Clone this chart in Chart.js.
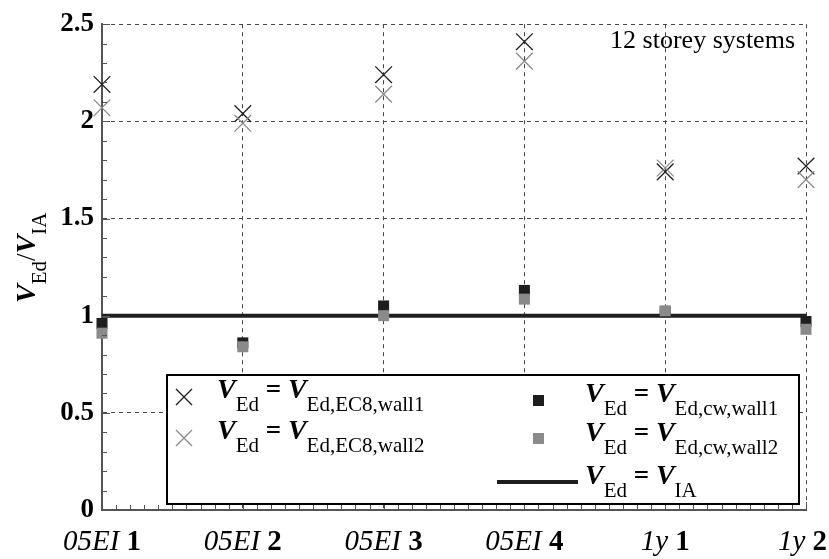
<!DOCTYPE html>
<html>
<head>
<meta charset="utf-8">
<script src="https://cdn.jsdelivr.net/npm/chart.js@4/dist/chart.umd.min.js"></script>
<style>
html,body{margin:0;padding:0;background:#fff;}
canvas{display:block;}
</style>
</head>
<body>
<canvas id="c" width="829" height="559"></canvas>
<script>
// ---- data ----
const xLabelMain = ['05EI', '05EI', '05EI', '05EI', '1y', '1y'];
const xLabelNum  = ['1', '2', '3', '4', '1', '2'];
const yTicks = [0, 0.5, 1, 1.5, 2, 2.5];
const ec8Wall1 = [2.19, 2.04, 2.24, 2.41, 1.74, 1.77];
const ec8Wall2 = [2.07, 1.99, 2.14, 2.31, 1.76, 1.70];
const cwWall1  = [0.96, 0.86, 1.05, 1.13, 1.02, 0.97];
const cwWall2  = [0.91, 0.84, 1.00, 1.085, 1.025, 0.93];
const iaRatio  = [1, 1, 1, 1, 1, 1];
const annotation = '12 storey systems';

const SERIF = '"Liberation Serif", "DejaVu Serif", serif';
const DARK = '#1e1e1e', GRAY = '#8a8a8a';

const pts = arr => arr.map((v, i) => ({x: i, y: v}));

function drawRich(ctx, x, y, parts) {
  for (const p of parts) {
    ctx.font = p.f;
    ctx.fillText(p.t, x, y + (p.dy || 0));
    x += ctx.measureText(p.t).width + (p.gap || 0);
  }
  return x;
}
const fV = `bold italic 28px ${SERIF}`, fSub = `21px ${SERIF}`, fEq = `bold 27px ${SERIF}`;
function eqParts(sub2) {
  return [
    {t: 'V', f: fV},
    {t: 'Ed', f: fSub, dy: 13},
    {t: ' = ', f: fEq},
    {t: 'V', f: fV},
    {t: sub2, f: fSub, dy: 13}
  ];
}

const customPlugin = {
  id: 'custom',
  afterDraw(chart) {
    const ctx = chart.ctx;
    const xs = chart.scales.x, ys = chart.scales.y;
    const area = chart.chartArea;
    ctx.save();
    // minor ticks
    ctx.strokeStyle = '#555';
    ctx.lineWidth = 1;
    ctx.beginPath();
    for (let v = 0; v <= 2.5001; v += 0.1) {
      const py = Math.round(ys.getPixelForValue(v)) + 0.5;
      const major = Math.abs(v * 2 - Math.round(v * 2)) < 1e-6;
      ctx.moveTo(area.left, py); ctx.lineTo(area.left + (major ? 8 : 5), py);
    }
    for (let v = 0; v <= 5.0001; v += 0.1) {
      const px = Math.round(xs.getPixelForValue(v)) + 0.5;
      const major = Math.abs(v - Math.round(v)) < 1e-6;
      ctx.moveTo(px, area.bottom); ctx.lineTo(px, area.bottom - (major ? 8 : 5));
    }
    ctx.stroke();

    // x labels (mixed italic / bold)
    ctx.fillStyle = '#000';
    ctx.textBaseline = 'alphabetic';
    for (let i = 0; i < xLabelMain.length; i++) {
      const fa = `italic 29px ${SERIF}`, fb = `bold 29px ${SERIF}`;
      ctx.font = fa; const wa = ctx.measureText(xLabelMain[i] + ' ').width;
      ctx.font = fb; const wb = ctx.measureText(xLabelNum[i]).width;
      const w = wa + wb;
      let x0 = xs.getPixelForValue(i) - w / 2;
      if (x0 + w > chart.width - 2) x0 = chart.width - 2 - w;
      drawRich(ctx, x0, 550, [{t: xLabelMain[i] + ' ', f: fa}, {t: xLabelNum[i], f: fb}]);
    }

    // y title
    ctx.save();
    ctx.translate(35, 303);
    ctx.rotate(-Math.PI / 2);
    drawRich(ctx, 0, 0, [
      {t: 'V', f: `bold italic 28px ${SERIF}`},
      {t: 'Ed', f: `21px ${SERIF}`, dy: 11},
      {t: '/', f: `27px ${SERIF}`},
      {t: 'V', f: `bold italic 28px ${SERIF}`},
      {t: 'IA', f: `21px ${SERIF}`, dy: 11}
    ]);
    ctx.restore();

    // annotation
    ctx.font = `26px ${SERIF}`;
    ctx.textAlign = 'right';
    ctx.fillText(annotation, 795, 48);
    ctx.textAlign = 'left';

    // legend box
    const lx = 167, ly = 375, lw = 799 - 167, lh = 504 - 375;
    ctx.fillStyle = '#fff';
    ctx.fillRect(lx, ly, lw, lh);
    ctx.strokeStyle = '#000';
    ctx.lineWidth = 2;
    ctx.strokeRect(lx, ly, lw, lh);

    // legend markers
    const cross = (cx, cy, col) => {
      ctx.strokeStyle = col; ctx.lineWidth = 1.3;
      const s = 8;
      ctx.beginPath();
      ctx.moveTo(cx - s, cy - s); ctx.lineTo(cx + s, cy + s);
      ctx.moveTo(cx - s, cy + s); ctx.lineTo(cx + s, cy - s);
      ctx.stroke();
    };
    cross(184, 397, DARK);
    cross(184, 438, GRAY);
    ctx.fillStyle = DARK; ctx.fillRect(533, 395, 11, 11);
    ctx.fillStyle = GRAY; ctx.fillRect(533, 433, 11, 11);
    ctx.strokeStyle = DARK; ctx.lineWidth = 4;
    ctx.beginPath(); ctx.moveTo(497, 482); ctx.lineTo(578, 482); ctx.stroke();

    ctx.fillStyle = '#000';
    drawRich(ctx, 217, 398, eqParts('Ed,EC8,wall1'));
    drawRich(ctx, 217, 439, eqParts('Ed,EC8,wall2'));
    drawRich(ctx, 585, 402, eqParts('Ed,cw,wall1'));
    drawRich(ctx, 585, 441, eqParts('Ed,cw,wall2'));
    drawRich(ctx, 585, 484, eqParts('IA'));
    ctx.restore();
  }
};

new Chart(document.getElementById('c'), {
  type: 'scatter',
  data: {
    datasets: [
      {label: 'VEd = VEd,EC8,wall1', order: 4, data: pts(ec8Wall1), clip: false, pointStyle: 'crossRot', radius: 11.8, borderColor: DARK, backgroundColor: DARK, borderWidth: 1.3},
      {label: 'VEd = VEd,EC8,wall2', order: 3, data: pts(ec8Wall2), clip: false, pointStyle: 'crossRot', radius: 11.8, borderColor: GRAY, backgroundColor: GRAY, borderWidth: 1.3},
      {label: 'VEd = VEd,cw,wall1', order: 2, data: pts(cwWall1), clip: false, pointStyle: 'rect', radius: 7.8, borderColor: DARK, backgroundColor: DARK, borderWidth: 0},
      {label: 'VEd = VEd,cw,wall2', order: 1, data: pts(cwWall2), clip: false, pointStyle: 'rect', radius: 7.8, borderColor: GRAY, backgroundColor: GRAY, borderWidth: 0},
      {label: 'VEd = VIA', order: 5, type: 'line', data: pts(iaRatio), clip: false, borderColor: DARK, borderWidth: 4, pointRadius: 0, showLine: true, fill: false}
    ]
  },
  options: {
    responsive: false,
    devicePixelRatio: 1,
    animation: false,
    layout: {padding: {top: 17, right: 23, left: 0, bottom: 0}},
    plugins: {legend: {display: false}, tooltip: {enabled: false}},
    scales: {
      x: {
        type: 'linear', min: 0, max: 5,
        ticks: {stepSize: 1, display: false},
        grid: {color: '#444', lineWidth: 1, drawTicks: false},
        border: {display: true, color: '#555', width: 2, dash: [4, 4]},
        afterFit: s => { s.height = 49; }
      },
      y: {
        min: 0, max: 2.5,
        afterBuildTicks: s => { s.ticks = yTicks.map(v => ({value: v})); },
        ticks: {color: '#000', font: {family: SERIF, size: 27, weight: 'bold'}, padding: 8, callback: v => String(v)},
        grid: {color: '#444', lineWidth: 1, drawTicks: false},
        border: {display: true, color: '#555', width: 2, dash: [4, 4]},
        afterFit: s => { s.width = 102; }
      }
    }
  },
  plugins: [customPlugin]
});
</script>
</body>
</html>
